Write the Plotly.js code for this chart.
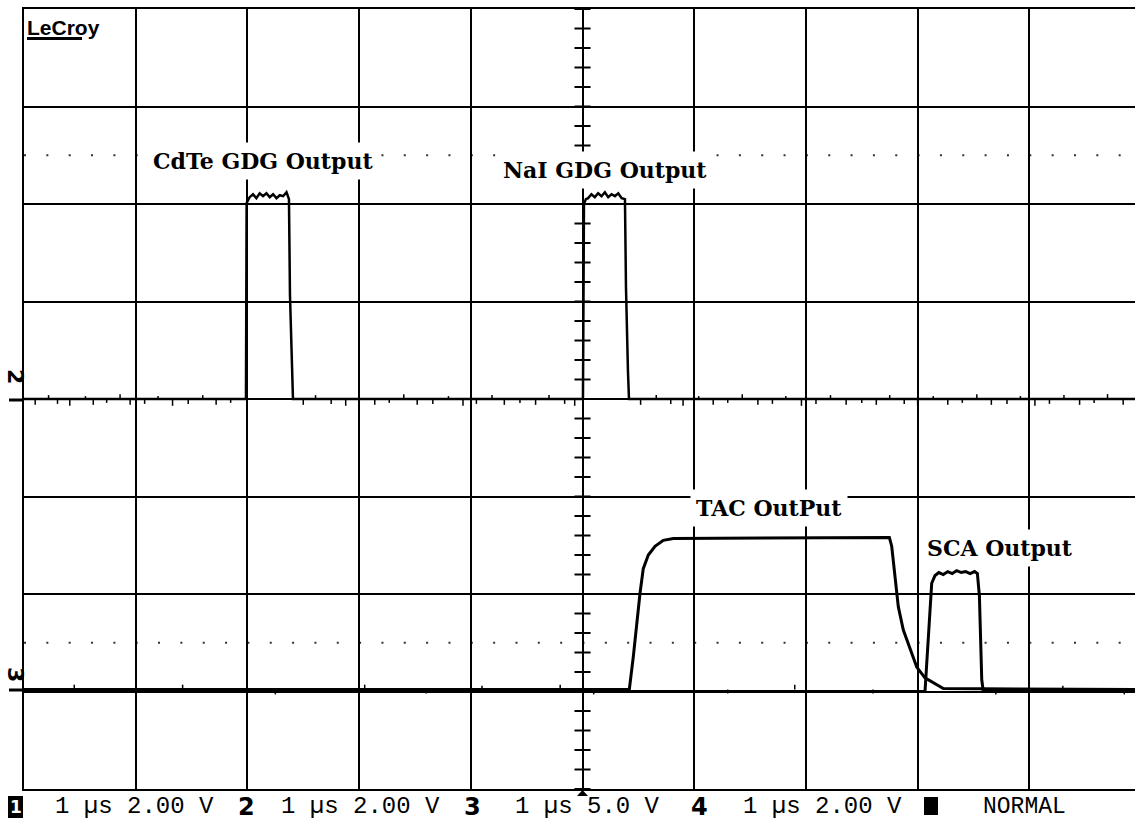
<!DOCTYPE html>
<html>
<head>
<meta charset="utf-8">
<script src="https://cdn.plot.ly/plotly-3.0.1.min.js"></script>
<style>html,body{margin:0;padding:0;background:#fff;}#chart{width:1135px;height:827px;}</style>
</head>
<body>
<div id="chart"></div>
<script>
// Time in µs (1 µs / div), amplitude in screen divisions
// Channel 2 : GDG outputs (CdTe and NaI)
const ch2Time = [0, 1.987, 1.993, 2.02, 2.05, 2.08, 2.11, 2.14, 2.17, 2.20, 2.23, 2.26, 2.29, 2.32, 2.35, 2.372, 2.381, 2.399, 2.408,
                 5.004, 5.013, 5.03, 5.05, 5.08, 5.11, 5.14, 5.17, 5.20, 5.23, 5.26, 5.29, 5.32, 5.35, 5.380, 5.389, 5.407, 5.416, 9.946];
const ch2Div  = [0, 0, 2.01, 2.07, 2.10, 2.06, 2.11, 2.08, 2.11, 2.07, 2.10, 2.06, 2.09, 2.08, 2.12, 2.05, 1.07, 0.23, 0,
                 0, 2.00, 2.05, 2.06, 2.10, 2.07, 2.11, 2.08, 2.12, 2.07, 2.10, 2.08, 2.11, 2.06, 2.05, 1.15, 0.28, 0, 0];
// Channel 3 : TAC output
const ch3Time = [0, 5.419, 5.455, 5.485, 5.515, 5.544, 5.589, 5.649, 5.723, 5.813, 7.747, 7.768, 7.798, 7.827, 7.872, 7.932, 7.992, 8.066, 8.171, 8.230, 9.946];
const ch3Div  = [-2.98, -2.98, -2.64, -2.30, -1.99, -1.74, -1.60, -1.51, -1.45, -1.43, -1.42, -1.51, -1.86, -2.13, -2.37, -2.57, -2.75, -2.86, -2.93, -2.97, -2.98];
// Channel 4 : SCA output
const ch4Time = [0, 8.066, 8.126, 8.156, 8.19, 8.23, 8.27, 8.31, 8.35, 8.39, 8.43, 8.47, 8.51, 8.535, 8.553, 8.574, 8.588, 9.946];
const ch4Div  = [-3.0, -3.0, -1.89, -1.81, -1.78, -1.80, -1.77, -1.79, -1.76, -1.78, -1.77, -1.79, -1.77, -1.79, -2.02, -2.88, -3.0, -3.0];
// baseline noise spikes (read approximately)
const ch2Base = 0;
const spikeT2 = [0.1,0.22,0.3,0.41,0.55,0.62,0.74,0.86,0.95,1.08,1.2,1.33,1.47,1.6,1.72,1.85,2.5,2.61,2.75,2.88,
                 3.0,3.14,3.27,3.4,3.52,3.66,3.8,3.93,4.05,4.19,4.3,4.44,4.58,4.7,4.84,4.93,5.52,5.66,5.79,5.9,
                 6.04,6.17,6.3,6.43,6.57,6.7,6.82,6.96,7.09,7.22,7.36,7.5,7.63,7.75,7.88,8.0,8.14,8.27,8.4,8.53,
                 8.66,8.8,8.92,9.05,9.18,9.31,9.45,9.58,9.7,9.84];
const spikeV2 = [-0.06,0.04,-0.05,-0.07,0.03,-0.06,-0.04,0.05,-0.06,-0.05,
                 0.03,-0.07,-0.05,0.04,-0.06,-0.04,-0.06,0.04,-0.05,-0.07,
                 0.03,-0.06,-0.04,0.05,-0.06,-0.05,0.03,-0.07,-0.05,0.04,
                 -0.06,-0.04,-0.06,0.04,-0.05,-0.07,-0.06,0.04,-0.05,-0.07,
                 0.03,-0.06,-0.04,0.05,-0.06,-0.05,0.03,-0.07,-0.05,0.04,
                 -0.06,-0.04,-0.06,0.04,-0.05,-0.07,0.03,-0.06,-0.04,0.05,
                 -0.06,-0.05,0.03,-0.07,-0.05,0.04,-0.06,-0.04,0.05,-0.06];
const ch3Base = -2.98;
const spikeT3 = [0.45,1.0,1.42,2.25,3.05,3.6,4.1,4.8,5.1,6.3,6.9,7.6,8.7,9.3,9.85];
const spikeV3 = [0.05,-0.04,0.05,-0.05,0.05,-0.04,0.04,0.05,-0.05,-0.04,0.05,-0.04,-0.05,0.04,-0.05];

const labels = ["CdTe GDG Output", "NaI GDG Output", "TAC OutPut", "SCA Output"];
const labelT = [1.101, 4.235, 5.962, 8.03];
const labelV = [2.44, 2.35, -1.118, -1.53];

const statusTexts = ["1 µs 2.00 V", "1 µs 2.00 V", "1 µs 5.0 V", "1 µs 2.00 V"];
const statusChan = ["2", "3", "4"];

// pixel -> paper helpers for decorations
const X1 = 9.946;
const PX = px => (px - 24) / 1111;
const PY = py => (789 - py) / 780;

function spikes(ts, vs, base) {
  const x = [], y = [];
  ts.forEach((t, i) => { x.push(t, t, null); y.push(base, base + vs[i], null); });
  return {x, y};
}
const s2 = spikes(spikeT2, spikeV2, ch2Base);
const s3 = spikes(spikeT3, spikeV3, ch3Base);

const traces = [
  {x: ch2Time, y: ch2Div, mode: 'lines', line: {color: '#000', width: 2.5}, hoverinfo: 'skip'},
  {x: s2.x, y: s2.y, mode: 'lines', line: {color: '#000', width: 1.5}, hoverinfo: 'skip'},
  {x: ch4Time, y: ch4Div, mode: 'lines', line: {color: '#000', width: 3}, hoverinfo: 'skip'},
  {x: ch3Time, y: ch3Div, mode: 'lines', line: {color: '#000', width: 3}, hoverinfo: 'skip'},
  {x: s3.x, y: s3.y, mode: 'lines', line: {color: '#000', width: 1.5}, hoverinfo: 'skip'}
];

const shapes = [];
// minor ticks on the centre vertical axis
for (let k = -20; k <= 20; k++) {
  shapes.push({type: 'line', xref: 'x', yref: 'y', x0: 5 - 0.072, x1: 5 + 0.072, y0: k * 0.2, y1: k * 0.2,
               line: {color: '#000', width: 2}});
}
// dotted rows
[2.5, -2.5].forEach(v => shapes.push({type: 'line', xref: 'x', yref: 'y', x0: 0, x1: X1, y0: v, y1: v,
  line: {color: '#333', width: 2, dash: '2px,20.34px'}, layer: 'below'}));
// LeCroy underline
shapes.push({type: 'rect', xref: 'paper', yref: 'paper', x0: PX(27), x1: PX(82), y0: PY(40), y1: PY(37),
             fillcolor: '#000', line: {width: 0}});
// ground markers on the left
[400, 690].forEach(py => shapes.push({type: 'line', xref: 'paper', yref: 'paper', x0: PX(9), x1: PX(24), y0: PY(py), y1: PY(py),
  line: {color: '#000', width: 3}}));
// channel 1 box and square in status bar
shapes.push({type: 'rect', xref: 'paper', yref: 'paper', x0: PX(8), x1: PX(23), y0: PY(818), y1: PY(796),
             fillcolor: '#000', line: {width: 0}});
shapes.push({type: 'rect', xref: 'paper', yref: 'paper', x0: PX(924), x1: PX(938), y0: PY(815), y1: PY(797),
             fillcolor: '#000', line: {width: 0}});
// trigger arrow under the centre line
shapes.push({type: 'path', xref: 'paper', yref: 'paper',
             path: 'M ' + PX(577) + ' ' + PY(796) + ' L ' + PX(588) + ' ' + PY(796) + ' L ' + PX(582.5) + ' ' + PY(790) + ' Z',
             fillcolor: '#000', line: {width: 0}});

const annotations = [];
labels.forEach((txt, i) => annotations.push({
  x: labelT[i], y: labelV[i], xref: 'x', yref: 'y', text: '<b>' + txt + '</b>', showarrow: false,
  xanchor: 'left', yanchor: 'middle', bgcolor: '#fff', borderpad: 5,
  font: {family: 'DejaVu Serif', size: 22, color: '#000'}
}));
annotations.push({x: PX(25), y: PY(27), xref: 'paper', yref: 'paper', text: '<b>LeCroy</b>', showarrow: false,
  xanchor: 'left', yanchor: 'middle', font: {family: 'Liberation Sans', size: 21, color: '#000'}});
// left channel markers
annotations.push({x: PX(16), y: PY(376), xref: 'paper', yref: 'paper', text: '<b>2</b>', textangle: 90, showarrow: false,
  xanchor: 'center', yanchor: 'middle', font: {family: 'DejaVu Sans', size: 22, color: '#000'}});
annotations.push({x: PX(16), y: PY(674), xref: 'paper', yref: 'paper', text: '<b>3</b>', textangle: 90, showarrow: false,
  xanchor: 'center', yanchor: 'middle', font: {family: 'DejaVu Sans', size: 22, color: '#000'}});
// status bar
const sy = PY(807);
annotations.push({x: PX(15.5), y: sy, xref: 'paper', yref: 'paper', text: '<b>1</b>', showarrow: false,
  xanchor: 'center', yanchor: 'middle', font: {family: 'DejaVu Sans', size: 17, color: '#fff'}});
const statusX = [53, 279, 513, 741];
statusTexts.forEach((t, i) => annotations.push({x: PX(statusX[i]), y: sy, xref: 'paper', yref: 'paper', text: t,
  showarrow: false, xanchor: 'left', yanchor: 'middle', font: {family: 'Liberation Mono', size: 24, color: '#000'}}));
const chanX = [246, 472, 699];
statusChan.forEach((t, i) => annotations.push({x: PX(chanX[i]), y: sy, xref: 'paper', yref: 'paper', text: '<b>' + t + '</b>',
  showarrow: false, xanchor: 'center', yanchor: 'middle', font: {family: 'DejaVu Sans', size: 24, color: '#000'}}));
annotations.push({x: PX(981), y: sy, xref: 'paper', yref: 'paper', text: 'NORMAL', showarrow: false,
  xanchor: 'left', yanchor: 'middle', font: {family: 'Liberation Mono', size: 23, color: '#000'}});

const layout = {
  width: 1135, height: 827,
  margin: {l: 24, r: 0, t: 9, b: 38},
  paper_bgcolor: '#fff', plot_bgcolor: '#fff',
  showlegend: false,
  xaxis: {range: [0, X1], tick0: 0, dtick: 1, showticklabels: false, ticks: '', showgrid: true,
          gridcolor: '#000', gridwidth: 2, zeroline: false, showline: true, mirror: true,
          linecolor: '#000', linewidth: 2, fixedrange: true},
  yaxis: {range: [-4, 4], tick0: 0, dtick: 1, showticklabels: false, ticks: '', showgrid: true,
          gridcolor: '#000', gridwidth: 2, zeroline: false, showline: true, mirror: false,
          linecolor: '#000', linewidth: 2, fixedrange: true},
  shapes: shapes,
  annotations: annotations
};

Plotly.newPlot('chart', traces, layout, {displayModeBar: false, staticPlot: true});
</script>
</body>
</html>
